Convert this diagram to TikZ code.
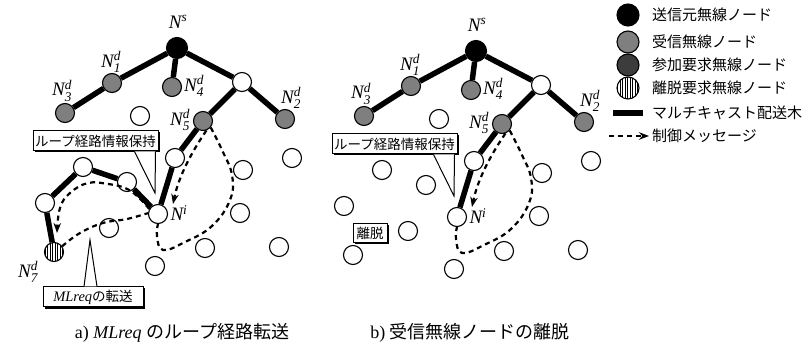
\documentclass[tikz,border=0pt]{standalone}
\usepackage{amsmath}
\usepackage{fontspec}
\setmainfont{Liberation Serif}
\newfontfamily\jp{Noto Sans CJK JP}
\usepackage{tikz}
\usetikzlibrary{arrows.meta,patterns.meta,shadows}

\definecolor{rcvgray}{HTML}{7F7F7F}
\definecolor{joingray}{HTML}{3C3C3C}
\newcommand{\Nlab}[2]{\textit{N}$^{\textit{#1}}_{\textit{#2}}$}

\tikzset{
  wn/.style={circle,draw,line width=1.1pt,fill=white,minimum size=19pt,inner sep=0pt},
  sn/.style={wn,fill=black,minimum size=21pt},
  rn/.style={wn,fill=rcvgray},
  jn/.style={wn,fill=joingray},
  ln/.style={wn,preaction={fill=white},pattern={Lines[angle=90,distance=2.5pt,line width=0.8pt]}},
  tree/.style={line width=5.5pt},
  msg/.style={line width=2.2pt,dash pattern=on 5pt off 4pt},
  msgtip/.style={-{Stealth[length=10pt,width=7.5pt]}},
  lbl/.style={font=\fontsize{19}{19}\selectfont\itshape,inner sep=0pt},
  cbox/.style={draw,fill=white,line width=1pt,inner sep=0pt,
    font=\jp\fontsize{13.5}{13.5}\selectfont,
    drop shadow={shadow xshift=1.5pt,shadow yshift=-1.5pt,opacity=1,fill=black}},
  legtxt/.style={anchor=west,inner sep=0pt,font=\jp\fontsize{15}{15}\selectfont},
  captxt/.style={font=\fontsize{18}{18}\selectfont,inner sep=0pt},
}

\begin{document}
\begin{tikzpicture}[x=1pt,y=-1pt]
    \useasboundingbox (0,0) rectangle (811,355);

    % Both panels: common network and tree
    \foreach \p/\dx/\dy in {a/0/0,b/299/3}{
    \begin{scope}[shift={(\dx,\dy)}]
      \node[sn] (\p-s) at (177,48) {};
      \node[rn] (\p-d1) at (112,83) {};
      \node[rn] (\p-d4) at (172,87) {};
      \node[wn] (\p-w1) at (242,82) {};
      \node[rn] (\p-d3) at (65,113) {};
      \node[wn] (\p-w2) at (140,116) {};
      \node[rn] (\p-d5) at (203,121) {};
      \node[rn] (\p-d2) at (285,119) {};
      \node[wn] (\p-w3) at (175,158) {};
      \node[wn] (\p-w4) at (292,158) {};
      \node[wn] (\p-w5) at (243,170) {};
      \node[wn] (\p-w6) at (83,167) {};
      \node[wn] (\p-w7) at (127,182) {};
      \node[wn] (\p-w8) at (45,203) {};
      \node[wn] (\p-i) at (158,214) {};
      \node[wn] (\p-w9) at (240,213) {};
      \node[wn] (\p-w10) at (109,228) {};
      \node[wn] (\p-w11) at (205,248) {};
      \node[wn] (\p-w12) at (279,247) {};
      \node[wn] (\p-w13) at (155,266) {};

      % Multicast tree
      \draw[tree] (\p-d3) -- (\p-d1) -- (\p-s) -- (\p-w1) -- (\p-d2);
      \draw[tree] (\p-s) -- (\p-d4);
      \draw[tree] (\p-w1) -- (\p-d5) -- (\p-w3) -- (\p-i);

      % Labels
      \node[lbl] (\p-ls) at (178,24) {\Nlab{s}{}};
      \node[lbl] (\p-l1) at (111,62) {\Nlab{d}{1}};
      \node[lbl] (\p-l3) at (62,91) {\Nlab{d}{3}};
      \node[lbl] (\p-l4) at (194,86) {\Nlab{d}{4}};
      \node[lbl] (\p-l2) at (291,98) {\Nlab{d}{2}};
      \node[lbl] (\p-l5) at (180,120) {\Nlab{d}{5}};
      \node[lbl] (\p-li) at (179,215) {\Nlab{i}{}};

      % Callout
      \node[cbox,minimum width=125pt,minimum height=20pt] (\p-cb) at (95.5,141) {ループ経路情報保持};
      \coordinate (\p-ct) at (155,193);
      \draw[fill=white,line width=1pt] ([xshift=-24pt]\p-cb.south east) -- (\p-ct) -- ([xshift=-3pt]\p-cb.south east);

      % Control messages around the loop
      \draw[msg,msgtip] (\p-d5.-70) .. controls (193,150) and (179,175) .. (173,204);
      \draw[msg] plot[smooth,tension=0.7] coordinates {(\p-d5.-40) (222,150) (232,175) (230,200) (212,226) (185,242) (163,250) (157,236) (\p-i.south)};
    \end{scope}
    }

    % a) loop path to the leaving node
    \node[ln] (a-d7) at (54,252) {};
    \node[lbl] (a-l7) at (28,272) {\Nlab{d}{7}};
    \draw[tree] (a-i) -- (a-w7) -- (a-w6) -- (a-w8) -- (a-d7);
    \draw[msg,msgtip] plot[smooth,tension=0.7] coordinates {(a-i.150) (137,196) (125,188) (108,184) (88,183) (70,193) (60,208) (57,233)};
    \draw[msg] plot[smooth,tension=0.7] coordinates {(a-d7.35) (80,233) (103,223) (127,219) (a-i.175)};
    \node[cbox,minimum width=100pt,minimum height=20pt,font=\fontsize{14.5}{14.5}\selectfont] (mlbox) at (93,297) {\textit{MLreq}{\jp\fontsize{13.5}{13.5}\selectfont の転送}};
    \coordinate (mltip) at (90,240);
    \draw[fill=white,line width=1pt] ([xshift=-9pt]mlbox.north) -- (mltip) -- ([xshift=4pt]mlbox.north);

    % b) node left
    \node[wn] (b-d7) at (353,255) {};
    \node[cbox,minimum width=34pt,minimum height=19pt] (lvbox) at (370,233) {離脱};

    % Legend
    \node[sn,minimum size=22pt] (lg1) at (628,15) {};
    \node[rn,minimum size=22pt] (lg2) at (628,42) {};
    \node[jn,minimum size=22pt] (lg3) at (628,65) {};
    \node[ln,minimum size=22pt] (lg4) at (628,88) {};
    \coordinate (lg5a) at (613,113);
    \coordinate (lg5b) at (643,113);
    \coordinate (lg6a) at (609,136);
    \coordinate (lg6b) at (649,136);
    \draw[tree] (lg5a) -- (lg5b);
    \draw[msg,msgtip] (lg6a) -- (lg6b);
    \node[legtxt] (lt1) at (652,15) {送信元無線ノード};
    \node[legtxt] (lt2) at (652,42) {受信無線ノード};
    \node[legtxt] (lt3) at (652,65) {参加要求無線ノード};
    \node[legtxt] (lt4) at (652,88) {離脱要求無線ノード};
    \node[legtxt] (lt5) at (652,113) {マルチキャスト配送木};
    \node[legtxt] (lt6) at (652,136) {制御メッセージ};

    % Captions
    \node[captxt] (capa) at (182,333) {a) \textit{MLreq} {\jp のループ経路転送}};
    \node[captxt] (capb) at (470,333) {b) {\jp 受信無線ノードの離脱}};
\end{tikzpicture}
\end{document}
